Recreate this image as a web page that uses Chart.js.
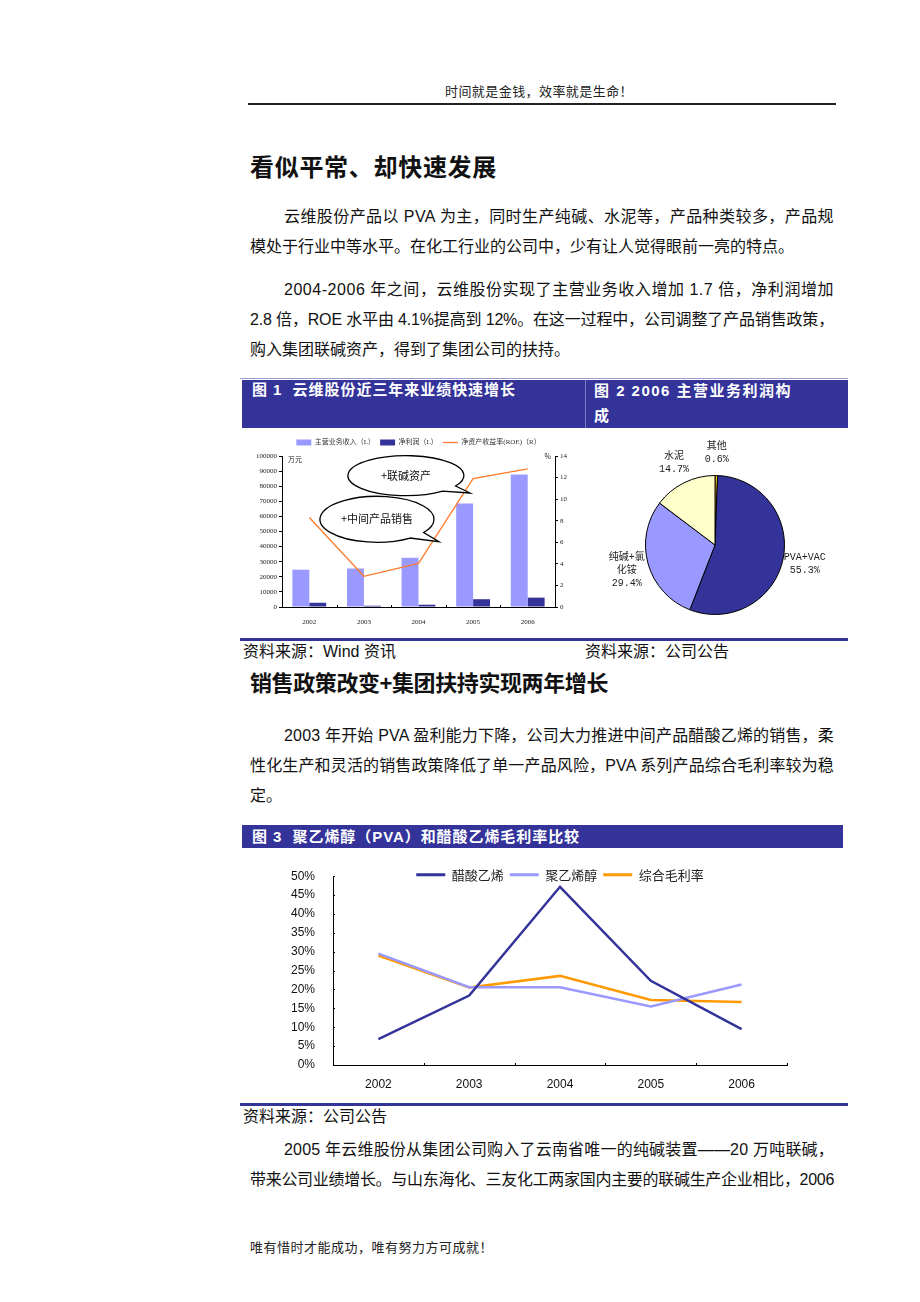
<!DOCTYPE html>
<html>
<head>
<meta charset="utf-8">
<script src="https://cdn.jsdelivr.net/npm/chart.js@4"></script>
<style>
  body { margin: 0; background: #fff; }
  #page { position: relative; width: 920px; height: 1302px; overflow: hidden;
    font-family: "Liberation Sans", "Noto Sans CJK SC", sans-serif; color: #111; }
  .t { position: absolute; white-space: nowrap; line-height: 20px; font-size: 16px; }
  .small { font-size: 13px; color: #222; }
  .h { font-weight: bold; }
  .bar { position: absolute; background: #33339a; }
  .bar .t { color: #fff; font-size: 15px; font-weight: bold; }
  .rule { position: absolute; }
  canvas { position: absolute; }
</style>
</head>
<body>
<div id="page">
  <div class="t small" data-w="188" style="left:445px;top:82px">时间就是金钱，效率就是生命！</div>
  <div class="rule" style="left:248px;top:103px;width:588px;height:2px;background:#222"></div>

  <div class="t h" data-w="247" style="left:250px;top:158px;font-size:24px">看似平常、却快速发展</div>
  <div class="t" data-w="550" style="left:284px;top:207px">云维股份产品以 PVA 为主，同时生产纯碱、水泥等，产品种类较多，产品规</div>
  <div class="t" style="left:250px;top:237px">模处于行业中等水平。在化工行业的公司中，少有让人觉得眼前一亮的特点。</div>
  <div class="t" data-w="550" style="left:284px;top:280px">2004-2006 年之间，云维股份实现了主营业务收入增加 1.7 倍，净利润增加</div>
  <div class="t" data-w="584" style="left:250px;top:310px">2.8 倍，ROE 水平由 4.1%提高到 12%。在这一过程中，公司调整了产品销售政策，</div>
  <div class="t" style="left:250px;top:340px">购入集团联碱资产，得到了集团公司的扶持。</div>

  <div class="rule" style="left:240px;top:378px;width:608px;height:1px;background:#9a9acc"></div>
  <div class="bar" style="left:242px;top:380px;width:606px;height:48px">
    <div class="rule" style="left:343px;top:0;width:1px;height:48px;background:#8080c0"></div>
    <div class="t" data-w="264" style="left:10px;top:0px">图 1&nbsp;&nbsp;云维股份近三年来业绩快速增长</div>
    <div class="t" data-w="198" style="left:352px;top:1px">图 2 2006 主营业务利润构</div>
    <div class="t" style="left:352px;top:26px">成</div>
  </div>

  <canvas id="c1" width="340" height="206" style="left:240px;top:432px"></canvas>
  <canvas id="c2" width="263" height="206" style="left:585px;top:432px"></canvas>

  <div class="rule" style="left:240px;top:638px;width:608px;height:3px;background:#33339a"></div>
  <div class="t" style="left:243px;top:642px">资料来源：Wind 资讯</div>
  <div class="t" style="left:585px;top:642px">资料来源：公司公告</div>

  <div class="t h" data-w="358" style="left:250px;top:674px;font-size:22px">销售政策改变+集团扶持实现两年增长</div>
  <div class="t" data-w="550" style="left:284px;top:726px">2003 年开始 PVA 盈利能力下降，公司大力推进中间产品醋酸乙烯的销售，柔</div>
  <div class="t" data-w="584" style="left:250px;top:756px">性化生产和灵活的销售政策降低了单一产品风险，PVA 系列产品综合毛利率较为稳</div>
  <div class="t" style="left:250px;top:786px">定。</div>

  <div class="bar" style="left:242px;top:825px;width:601px;height:23px">
    <div class="t" data-w="328" style="left:10px;top:2px">图 3&nbsp;&nbsp;聚乙烯醇（PVA）和醋酸乙烯毛利率比较</div>
  </div>

  <canvas id="c3" width="640" height="241" style="left:240px;top:859px"></canvas>

  <div class="rule" style="left:240px;top:1103px;width:608px;height:3px;background:#33339a"></div>
  <div class="t" style="left:243px;top:1107px">资料来源：公司公告</div>
  <div class="t" data-w="550" style="left:284px;top:1140px">2005 年云维股份从集团公司购入了云南省唯一的纯碱装置——20 万吨联碱，</div>
  <div class="t" data-w="584" style="left:250px;top:1170px">带来公司业绩增长。与山东海化、三友化工两家国内主要的联碱生产企业相比，2006</div>

  <div class="t small" data-w="243" style="left:250px;top:1238px">唯有惜时才能成功，唯有努力方可成就！</div>
</div>

<script>
// 图1 数据
const years = ['2002', '2003', '2004', '2005', '2006'];
const revenue = [24700, 25500, 32600, 68500, 87800];   // 主营业务收入 万元
const netProfit = [2800, 850, 1500, 5150, 6200];       // 净利润 万元
const roe = [8.3, 2.85, 4.05, 11.9, 12.8];             // ROE %

// 图2 数据
const pieLabels = [['其他'], ['PVA+VAC'], ['纯碱+氯', '化铵'], ['水泥']];
const pieShares = [0.6, 55.3, 29.4, 14.7];

// 图3 数据
const vacMargin = [6.85, 18.4, 47.2, 22.3, 9.5];     // 醋酸乙烯
const pvaMargin = [29.5, 20.6, 20.6, 15.5, 21.3];    // 聚乙烯醇
const totalMargin = [29.0, 20.5, 23.6, 17.2, 16.7];  // 综合毛利率

// 调整文字宽度
document.querySelectorAll('[data-w]').forEach(el => {
  const target = +el.dataset.w;
  const w = el.getBoundingClientRect().width;
  const n = el.textContent.length;
  el.style.letterSpacing = ((target - w) / n) + 'px';
});

const serif7 = { family: '"Liberation Serif", "Noto Sans CJK SC"', size: 7 };

// 坐标轴内侧的小刻度
const innerTicks = {
  id: 'innerTicks',
  afterDraw(chart, args, opts) {
    const { ctx, chartArea } = chart;
    const xs = chart.scales.x;
    ctx.save();
    ctx.strokeStyle = '#000';
    ctx.lineWidth = 1;
    ctx.beginPath();
    if (opts.y) {
      const ys = chart.scales.y;
      ys.ticks.forEach((t, i) => {
        const py = Math.round(ys.getPixelForTick(i)) + 0.5;
        ctx.moveTo(chartArea.left, py);
        ctx.lineTo(chartArea.left + opts.len, py);
      });
    }
    for (let i = 0; i <= xs.ticks.length; i++) {
      const px = Math.round(xs.getPixelForValue(i - 0.5)) + 0.5;
      ctx.moveTo(px, chartArea.bottom);
      ctx.lineTo(px, chartArea.bottom - opts.len);
    }
    ctx.stroke();
    ctx.restore();
  }
};

// 图1：单位和两个对话框
function bubble(ctx, cx, cy, rx, ry, tx, ty, text) {
  const a = Math.atan2((ty - cy) / ry, (tx - cx) / rx);
  ctx.beginPath();
  ctx.ellipse(cx, cy, rx, ry, 0, a + 0.22, a - 0.12 + Math.PI * 2);
  ctx.lineTo(tx, ty);
  ctx.closePath();
  ctx.fillStyle = '#fff';
  ctx.fill();
  ctx.strokeStyle = '#000';
  ctx.lineWidth = 1.3;
  ctx.stroke();
  ctx.fillStyle = '#111';
  ctx.font = '11px "Noto Sans CJK SC"';
  ctx.textAlign = 'center';
  ctx.textBaseline = 'middle';
  ctx.fillText(text, cx, cy);
}

const notes = {
  id: 'notes',
  afterDraw(chart) {
    const { ctx, chartArea: a } = chart;
    const w = a.right - a.left, h = a.bottom - a.top;
    ctx.save();
    ctx.font = '7px "Noto Sans CJK SC"';
    ctx.fillStyle = '#222';
    ctx.textBaseline = 'middle';
    ctx.textAlign = 'left';
    ctx.fillText('万元', a.left + 6, a.top + 3);
    ctx.textAlign = 'right';
    ctx.fillText('%', a.right - 4, a.top);
    bubble(ctx, a.left + w * 0.454, a.top + h * 0.13, 58, 20,
      a.left + w * 0.689, a.top + h * 0.245, '+联碱资产');
    bubble(ctx, a.left + w * 0.348, a.top + h * 0.419, 57, 23,
      a.left + w * 0.575, a.top + h * 0.568, '+中间产品销售');
    ctx.restore();
  }
};

new Chart(document.getElementById('c1'), {
  data: {
    labels: years,
    datasets: [
      { type: 'bar', label: '主营业务收入（L）', data: revenue, backgroundColor: '#9999ff',
        yAxisID: 'y', pointStyle: 'rect', order: 1,
        categoryPercentage: 0.62, barPercentage: 1.0 },
      { type: 'bar', label: '净利润（L）', data: netProfit, backgroundColor: '#333399',
        yAxisID: 'y', pointStyle: 'rect', order: 1,
        categoryPercentage: 0.62, barPercentage: 1.0 },
      { type: 'line', label: '净资产收益率(ROE)（R）', data: roe, borderColor: '#ff7a2a',
        backgroundColor: '#ff7a2a', borderWidth: 1.3, pointRadius: 0, pointStyle: 'line',
        pointBorderWidth: 1.3, yAxisID: 'y1', order: 0 }
    ]
  },
  options: {
    responsive: false,
    animation: false,
    layout: { padding: { top: 2 } },
    plugins: {
      legend: {
        fullSize: false,
        labels: {
          font: serif7, color: '#333', usePointStyle: true, pointStyleWidth: 15,
          boxHeight: 6, padding: 5,
          sort: (a, b) => a.datasetIndex - b.datasetIndex
        }
      },
      tooltip: { enabled: false },
      innerTicks: { y: false, len: 2 }
    },
    scales: {
      x: {
        offset: true,
        grid: { display: false },
        border: { color: '#000' },
        ticks: { font: serif7, color: '#222', padding: 3 },
        afterFit(s) { s.height = 31; }
      },
      y: {
        position: 'left', min: 0, max: 100000,
        grid: { drawOnChartArea: false, tickLength: 3, color: '#000' },
        border: { color: '#000' },
        ticks: { stepSize: 10000, font: serif7, color: '#222', padding: 2,
          callback: v => String(v) },
        afterFit(s) { s.width = 42; }
      },
      y1: {
        position: 'right', min: 0, max: 14,
        grid: { drawOnChartArea: false, tickLength: 3, color: '#000' },
        border: { color: '#000' },
        ticks: { stepSize: 2, font: serif7, color: '#222', padding: 2 },
        afterFit(s) { s.width = 25; }
      }
    }
  },
  plugins: [innerTicks, notes]
});

// 图2：饼图标签
const pieText = {
  id: 'pieText',
  afterDraw(chart) {
    const { ctx } = chart;
    const meta = chart.getDatasetMeta(0);
    ctx.save();
    ctx.font = '10px "Liberation Mono", "Noto Sans CJK SC"';
    ctx.fillStyle = '#222';
    ctx.textAlign = 'center';
    ctx.textBaseline = 'middle';
    meta.data.forEach((arc, i) => {
      const p = arc.getProps(['x', 'y', 'startAngle', 'endAngle', 'outerRadius'], true);
      const mid = (p.startAngle + p.endAngle) / 2;
      const r = p.outerRadius * 1.32;
      const lines = pieLabels[i].concat([pieShares[i].toFixed(1) + '%']);
      const cx = p.x + Math.cos(mid) * r;
      const cy = p.y + Math.sin(mid) * r;
      lines.forEach((s, k) => {
        ctx.fillText(s, cx, cy + (k - (lines.length - 1) / 2) * 13);
      });
    });
    ctx.restore();
  }
};

new Chart(document.getElementById('c2'), {
  type: 'pie',
  data: {
    labels: pieLabels,
    datasets: [{
      data: pieShares,
      backgroundColor: ['#ffcc00', '#333399', '#9999ff', '#ffffcc'],
      borderColor: '#000',
      borderWidth: 1
    }]
  },
  options: {
    responsive: false,
    animation: false,
    layout: { padding: { left: 60, right: 63, top: 43, bottom: 23 } },
    plugins: { legend: { display: false }, tooltip: { enabled: false } }
  },
  plugins: [pieText]
});

// 图3：图例压在绘图区顶部
const legendOverlay = {
  id: 'legendOverlay',
  beforeLayout(chart) {
    const lg = chart.legend;
    if (lg && !lg._patched) {
      const fit = lg.fit;
      lg.fit = function () { fit.call(this); this.height = 0; };
      lg._patched = true;
    }
  },
  afterLayout(chart, args, opts) {
    const lg = chart.legend;
    lg.top = chart.chartArea.top - opts.up;
    lg.bottom = lg.top + 30;
    lg.height = 30;
  }
};

const sans12 = { family: '"Liberation Sans", Arial', size: 12 };

new Chart(document.getElementById('c3'), {
  type: 'line',
  data: {
    labels: years,
    datasets: [
      { label: '醋酸乙烯', data: vacMargin, borderColor: '#333399', backgroundColor: '#333399',
        borderWidth: 2.5, pointRadius: 0, pointBorderWidth: 3, pointStyle: 'line' },
      { label: '聚乙烯醇', data: pvaMargin, borderColor: '#9999ff', backgroundColor: '#9999ff',
        borderWidth: 2.5, pointRadius: 0, pointBorderWidth: 3, pointStyle: 'line' },
      { label: '综合毛利率', data: totalMargin, borderColor: '#ff9900', backgroundColor: '#ff9900',
        borderWidth: 2.5, pointRadius: 0, pointBorderWidth: 3, pointStyle: 'line' }
    ]
  },
  options: {
    responsive: false,
    animation: false,
    layout: { padding: { top: 14, right: 93 } },
    plugins: {
      legend: {
        fullSize: false,
        labels: {
          font: { family: '"Noto Sans CJK SC"', size: 13 }, color: '#222',
          usePointStyle: true, pointStyleWidth: 29, padding: 6
        }
      },
      tooltip: { enabled: false },
      legendOverlay: { up: 14 },
      innerTicks: { y: true, len: 2 }
    },
    scales: {
      x: {
        offset: true,
        grid: { display: false },
        border: { color: '#000' },
        ticks: { font: sans12, color: '#111', padding: 4 },
        afterFit(s) { s.height = 35; }
      },
      y: {
        min: 0, max: 50,
        grid: { display: false },
        border: { color: '#000' },
        ticks: { stepSize: 5, font: sans12, color: '#111', padding: 10,
          callback: v => v + '%' },
        afterFit(s) { s.width = 93; }
      }
    }
  },
  plugins: [innerTicks, legendOverlay]
});
</script>
</body>
</html>
